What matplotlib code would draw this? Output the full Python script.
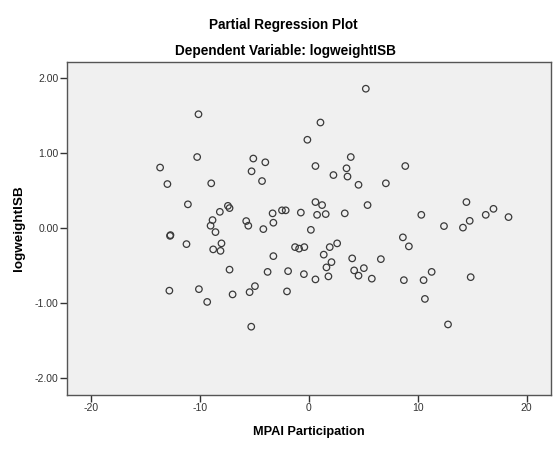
import numpy as np
import matplotlib
matplotlib.use("Agg")
import matplotlib.pyplot as plt

plt.rcParams["font.family"] = ["Liberation Sans", "DejaVu Sans"]
plt.rcParams["axes.unicode_minus"] = False   # SPSS prints a plain hyphen

# residuals
mpai = np.array([
    -10.11, -0.12, -10.23, -13.63, -12.96, -8.94, -5.08, -3.98, -5.24, -4.28,
    -11.08, -7.41, -7.26, -8.15, -8.82, -9.00, -8.55, -12.68, -12.72, -11.21,
    -8.00, -8.76, -8.09, -5.73, -5.54, -4.16, -3.31, -3.24, -2.45, -2.11,
    -0.72, 0.20, -1.25, -0.88, -0.40, -3.24,
    5.24, 1.08, 3.86, 0.62, 3.47, 8.86, 2.27, 3.56, 4.57, 7.08,
    0.62, 1.23, 5.40, 14.47, 0.77, 1.56, 3.31, 10.33, 16.95, 16.24,
    18.33, 12.41, 14.15, 14.77, 8.64, 9.19, 2.61, 1.93, 1.38, 3.99, 6.62,
    -7.26, -10.07, -12.78, -9.31, -6.98, -5.42, -4.93, -5.27, -3.77, -1.89,
    -1.99, -0.44,
    2.09, 1.63, 1.81, 0.62, 4.17, 4.57, 5.06, 5.79, 8.73, 10.54, 11.28,
    10.66, 12.78, 14.86,
])
logweight = np.array([
    1.52, 1.18, 0.95, 0.81, 0.59, 0.60, 0.93, 0.88, 0.76, 0.63,
    0.32, 0.30, 0.27, 0.22, 0.11, 0.035, -0.05, -0.09, -0.10, -0.21,
    -0.20, -0.28, -0.30, 0.097, 0.035, -0.01, 0.20, 0.075, 0.24, 0.24,
    0.21, -0.02, -0.25, -0.27, -0.25, -0.37,
    1.86, 1.41, 0.95, 0.83, 0.80, 0.83, 0.71, 0.69, 0.58, 0.60,
    0.35, 0.31, 0.31, 0.35, 0.18, 0.19, 0.20, 0.18, 0.26, 0.18,
    0.15, 0.03, 0.01, 0.10, -0.12, -0.24, -0.20, -0.25, -0.35, -0.40, -0.41,
    -0.55, -0.81, -0.83, -0.98, -0.88, -0.85, -0.77, -1.31, -0.58, -0.57,
    -0.84, -0.61,
    -0.45, -0.52, -0.64, -0.68, -0.56, -0.63, -0.53, -0.67, -0.69, -0.69, -0.58,
    -0.94, -1.28, -0.65,
])

xticks = [-20, -10, 0, 10, 20]
yticks = [-2, -1, 0, 1, 2]

fig = plt.figure(figsize=(5.57, 4.5), dpi=100)
ax = fig.add_axes([0.1197, 0.1222, 0.8690, 0.7407])
ax.set_facecolor("#f0f0f0")

ax.scatter(mpai, logweight, s=22, facecolors="none", edgecolors="#3a3a3a",
           linewidths=0.9, zorder=3)

ax.set_xlim(-22.2, 22.2)
ax.set_ylim(-2.22, 2.22)
ax.set_xticks(xticks)
ax.set_yticks(yticks)
ax.set_yticklabels([f"{v:.2f}" for v in yticks])

for s in ax.spines.values():
    s.set_color("#555555")
    s.set_linewidth(1.0)
ax.tick_params(direction="out", length=5, width=1, color="#333333",
               labelsize=7.5, labelcolor="#333333", pad=1)

ax.set_xlabel("MPAI Participation", fontsize=9.2, fontweight="bold", labelpad=9)
ax.set_ylabel("logweightISB", fontsize=9.7, fontweight="bold", labelpad=7)

fig.text(0.508, 1 - 25 / 450, "Partial Regression Plot", ha="center",
         va="center", fontsize=9.8, fontweight="bold")
fig.text(0.512, 1 - 51 / 450, "Dependent Variable: logweightISB", ha="center",
         va="center", fontsize=9.8, fontweight="bold")

fig.savefig("out.png", dpi=100)
